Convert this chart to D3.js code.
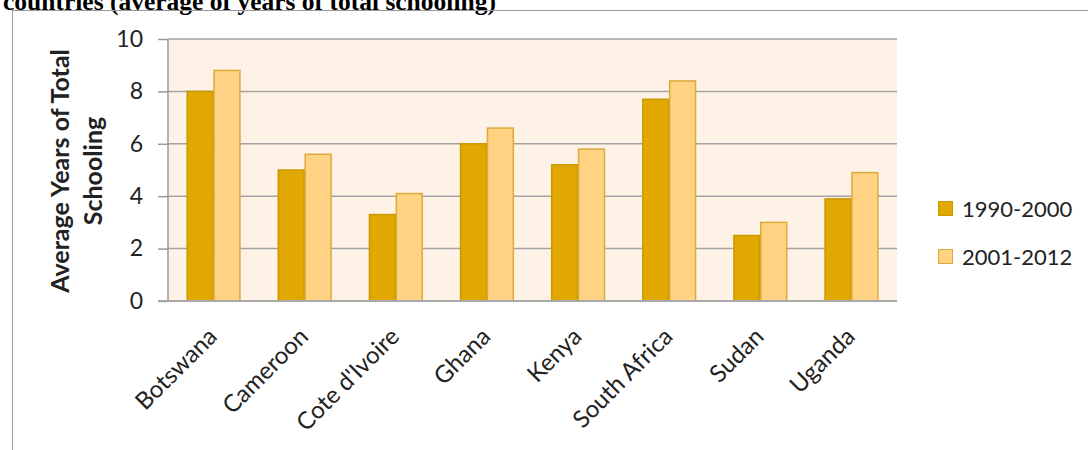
<!DOCTYPE html>
<html>
<head>
<meta charset="utf-8">
<script src="https://cdn.jsdelivr.net/npm/d3@7"></script>
<style>
  body { margin: 0; background: #fff; }
  svg { display: block; }
</style>
</head>
<body>
<div id="chart"></div>
<script>
// Data
var countries = ["Botswana", "Cameroon", "Cote d'Ivoire", "Ghana", "Kenya", "South Africa", "Sudan", "Uganda"];
var period1 = [8.0, 5.0, 3.3, 6.0, 5.2, 7.7, 2.5, 3.9];
var period2 = [8.8, 5.6, 4.1, 6.6, 5.8, 8.4, 3.0, 4.9];
var seriesNames = ["1990-2000", "2001-2012"];
var yTicks = [0, 2, 4, 6, 8, 10];

var colors = { fill: ["#E0A800", "#FFD284"], stroke: ["#C99A00", "#DDAA3A"] };
var font = "Lato, 'Open Sans', sans-serif";

var W = 1088, H = 450;
var margin = { top: 39, right: 191, bottom: 149, left: 168 },
  width = W - margin.left - margin.right,
  height = H - margin.top - margin.bottom;

var svg = d3.select("#chart").append("svg").attr("width", W).attr("height", H);

// clipped title from the surrounding document
svg.append("text")
  .attr("x", 3).attr("y", 10)
  .style("font-family", "'Liberation Serif', 'Times New Roman', serif")
  .style("font-weight", "bold")
  .style("font-size", "25.5px")
  .text("countries (average of years of total schooling)");

// chart frame
svg.append("path")
  .attr("d", "M12.5," + H + "V10.5H" + W)
  .attr("fill", "none")
  .attr("stroke", "#9a9a9a")
  .attr("stroke-width", 1);

var g = svg.append("g").attr("transform", "translate(" + margin.left + "," + margin.top + ")");

var x0 = d3.scaleBand().domain(countries).range([0, width]).paddingInner(0.41).paddingOuter(0.205);
var x1 = d3.scaleBand().domain(seriesNames).range([0, x0.bandwidth()]);
var y = d3.scaleLinear().domain([0, 10]).range([height, 0]);

// plot background
g.append("rect")
  .attr("width", width).attr("height", height)
  .attr("fill", "#FEF2E6");

// gridlines
g.append("g")
  .selectAll("line")
  .data(yTicks.filter((d) => d > 0))
  .join("line")
  .attr("x1", 0).attr("x2", width)
  .attr("y1", (d) => y(d)).attr("y2", (d) => y(d))
  .attr("stroke", "#a3a3a3")
  .attr("stroke-width", 1.5);

// bars
var rows = countries.map((c, i) => ({ country: c, values: [period1[i], period2[i]] }));
var groups = g.append("g")
  .selectAll("g")
  .data(rows)
  .join("g")
  .attr("transform", (d) => "translate(" + x0(d.country) + ",0)");

groups.selectAll("rect")
  .data((d) => d.values.map((v, j) => ({ key: seriesNames[j], value: v, j: j })))
  .join("rect")
  .attr("x", (d) => x1(d.key) + 0.5)
  .attr("y", (d) => y(d.value))
  .attr("width", x1.bandwidth() - 1)
  .attr("height", (d) => height - y(d.value))
  .attr("fill", (d) => colors.fill[d.j])
  .attr("stroke", (d) => colors.stroke[d.j])
  .attr("stroke-width", 1.5);

// y axis
var yAxis = g.append("g")
  .call(d3.axisLeft(y).tickValues(yTicks).tickSize(10).tickPadding(15));
yAxis.select(".domain").attr("stroke", "#9a9a9a").attr("stroke-width", 1.5).attr("d", "M0," + height + "V0");
yAxis.selectAll(".tick line").attr("stroke", "#9a9a9a").attr("stroke-width", 1.5);
yAxis.selectAll(".tick text")
  .style("font-family", font)
  .style("font-size", "23px")
  .attr("fill", "#222");

// x axis baseline
g.append("line")
  .attr("x1", -10).attr("x2", width)
  .attr("y1", height).attr("y2", height)
  .attr("stroke", "#a8a8a8")
  .attr("stroke-width", 2);

// x labels
g.append("g")
  .selectAll("text")
  .data(countries)
  .join("text")
  .attr("transform", (d) => "translate(" + (x0(d) + x0.bandwidth() / 2 + 5) + "," + (height + 37) + ") rotate(-45)")
  .attr("text-anchor", "end")
  .style("font-family", font)
  .style("font-size", "24px")
  .attr("fill", "#222")
  .text((d) => d);

// y axis title
var yt = svg.append("text")
  .attr("transform", "translate(78," + (margin.top + height / 2 + 1) + ") rotate(-90)")
  .attr("text-anchor", "middle")
  .style("font-family", font)
  .style("font-weight", "bold")
  .style("font-size", "25px")
  .attr("fill", "#222");
yt.append("tspan").attr("x", 0).attr("dy", "-0.35em").text("Average Years of Total");
yt.append("tspan").attr("x", 0).attr("dy", "1.32em").text("Schooling");

// legend
var legend = svg.append("g").attr("transform", "translate(938,201)");
var li = legend.selectAll("g")
  .data(seriesNames)
  .join("g")
  .attr("transform", (d, i) => "translate(0," + i * 48 + ")");
li.append("rect")
  .attr("x", 0.5).attr("y", 0.5)
  .attr("width", 14).attr("height", 14)
  .attr("fill", (d, i) => colors.fill[i])
  .attr("stroke", (d, i) => colors.stroke[i]);
li.append("text")
  .attr("x", 24).attr("y", 8).attr("dy", "0.35em")
  .style("font-family", font)
  .style("font-size", "22px")
  .attr("fill", "#222")
  .text((d) => d);
</script>
</body>
</html>
